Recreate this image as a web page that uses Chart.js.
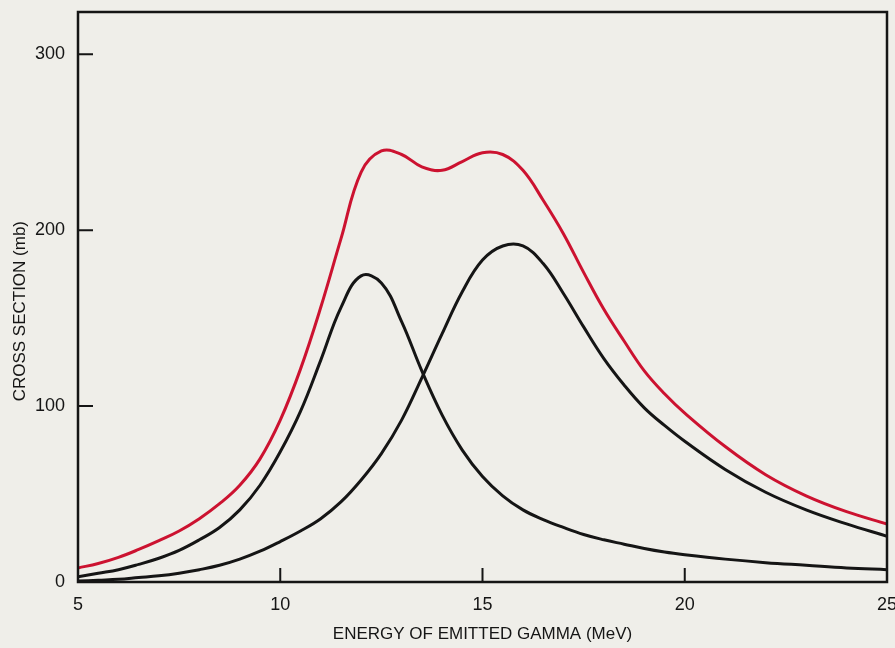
<!DOCTYPE html>
<html>
<head>
<meta charset="utf-8">
<title>Cross section vs energy of emitted gamma</title>
<script src="https://cdn.jsdelivr.net/npm/chart.js@4.4.1/dist/chart.umd.min.js"></script>
<style>
  html, body { margin: 0; padding: 0; background: #efeee9; }
  canvas { display: block; }
</style>
</head>
<body>
<canvas id="chart" width="895" height="648"></canvas>
<script>
// values (MeV, mb)
const energy     = [5, 5.5, 6, 6.5, 7, 7.5, 8, 8.5, 9, 9.5, 10, 10.5, 11, 11.5, 12, 12.5, 13, 13.5, 14, 14.5, 15, 15.5, 16, 16.5, 17, 17.5, 18, 18.5, 19, 19.5, 20, 21, 22, 23, 24, 25];
const totalCross = [8, 10.5, 14, 18.5, 23.5, 29, 36, 44.5, 55, 70, 92, 121, 156, 195, 233, 245, 243, 236, 234, 239, 244, 243, 234, 217, 198, 176, 155, 137, 120, 107, 96, 77, 61, 49, 40, 33];
const lowPeak    = [3, 5, 7, 10, 13.5, 18, 24, 31, 41, 55, 74, 97, 126, 156, 174, 170, 148, 120, 95, 75, 60, 49, 41, 35.5, 31, 27, 24, 21.5, 19, 17, 15.5, 13, 11, 9.5, 8, 7];
const highPeak   = [0.5, 1, 1.5, 2.5, 3.5, 5, 7, 9.5, 13, 17.5, 23, 29, 36, 45.5, 58, 73, 92, 116, 141, 165, 183, 191, 191, 181, 164, 145, 127, 112, 99, 89, 80, 64, 51, 41, 33, 26];

const xTicks = [5, 10, 15, 20, 25];
const yTicks = [0, 100, 200, 300];

const toPoints = ys => energy.map((x, i) => ({x: x, y: ys[i]}));

const ink = '#151515';
const tickFont = {family: "'Liberation Sans', Arial, sans-serif", size: 18};
const titleFont = {family: "'Liberation Sans', Arial, sans-serif", size: 17};

// frame around the plot and the short inward tick marks
const frameTicks = {
  id: 'frameTicks',
  afterDatasetsDraw(chart) {
    const {ctx, chartArea: a, scales: {x, y}} = chart;
    ctx.save();
    ctx.strokeStyle = ink;
    ctx.lineWidth = 2.5;
    ctx.strokeRect(a.left, a.top, a.right - a.left, a.bottom - a.top);
    ctx.lineWidth = 2;
    ctx.beginPath();
    xTicks.slice(1, -1).forEach(v => {
      const px = x.getPixelForValue(v);
      ctx.moveTo(px, a.bottom);
      ctx.lineTo(px, a.bottom - 14);
    });
    yTicks.slice(1).forEach(v => {
      const py = y.getPixelForValue(v);
      ctx.moveTo(a.left, py);
      ctx.lineTo(a.left + 15, py);
    });
    ctx.stroke();
    ctx.restore();
  }
};

const line = (data, color) => ({
  data: toPoints(data),
  borderColor: color,
  borderWidth: 3,
  pointRadius: 0,
  fill: false,
  tension: 0.4
});

new Chart(document.getElementById('chart'), {
  type: 'line',
  data: {
    datasets: [
      line(lowPeak, ink),
      line(highPeak, ink),
      line(totalCross, '#cc1230')
    ]
  },
  options: {
    responsive: false,
    animation: false,
    layout: {padding: {top: 12, right: 8, left: 0, bottom: 0}},
    plugins: {legend: {display: false}, tooltip: {enabled: false}},
    scales: {
      x: {
        type: 'linear',
        min: 5,
        max: 25,
        afterBuildTicks: s => { s.ticks = xTicks.map(v => ({value: v})); },
        afterFit: s => { s.height = 66; s.paddingLeft = 0; s.paddingRight = 0; },
        grid: {display: false},
        border: {display: false},
        ticks: {color: ink, font: tickFont, padding: 4},
        title: {display: true, text: 'ENERGY OF EMITTED GAMMA (MeV)', color: ink, font: titleFont, padding: {top: 0, bottom: 3}}
      },
      y: {
        min: 0,
        max: 324,
        afterBuildTicks: s => { s.ticks = yTicks.map(v => ({value: v})); },
        afterFit: s => { s.width = 78; s.paddingTop = 0; s.paddingBottom = 0; },
        grid: {display: false},
        border: {display: false},
        ticks: {color: ink, font: tickFont, padding: 5},
        title: {display: true, text: 'CROSS SECTION (mb)      ', color: ink, font: titleFont, padding: {top: 10, bottom: 0}}
      }
    }
  },
  plugins: [frameTicks]
});
</script>
</body>
</html>
